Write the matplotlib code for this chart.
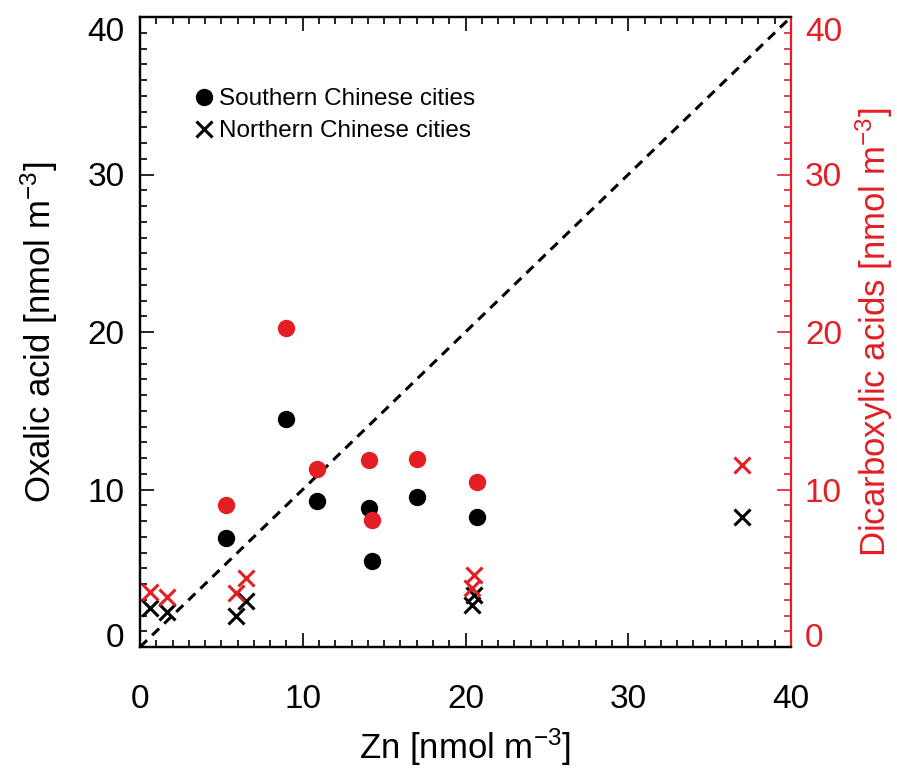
import numpy as np
import matplotlib
matplotlib.use("Agg")
import matplotlib.pyplot as plt
import matplotlib.transforms as mtransforms
from matplotlib.ticker import MultipleLocator, FuncFormatter
from matplotlib.lines import Line2D

plt.rcParams['font.family'] = ['Liberation Sans', 'DejaVu Sans']
plt.rcParams['mathtext.fontset'] = 'custom'
plt.rcParams['mathtext.rm'] = 'Liberation Sans'
plt.rcParams['mathtext.it'] = 'Liberation Sans:italic'
plt.rcParams['mathtext.bf'] = 'Liberation Sans:bold'

RED = '#e31e24'

# southern cities (circles)
south_zn = [5.3, 9.0, 10.9, 14.1, 14.25, 17.0, 20.7]
south_oxalic = [6.95, 14.5, 9.3, 8.8, 5.45, 9.55, 8.25]
south_dicarb = [9.0, 20.25, 11.3, 11.9, 8.05, 11.95, 10.5]

# northern cities (crosses)
north_zn = [0.6, 1.65, 5.9, 6.5, 20.55, 20.4, 37.0]
north_oxalic = [2.45, 2.25, 2.0, 2.9, 3.3, 2.65, 8.25]
north_dicarb = [3.5, 3.15, 3.45, 4.35, 4.55, 3.75, 11.55]

y_lo, y_hi = 0, 40

fig = plt.figure(figsize=(8.97, 7.69), dpi=100)
ax = fig.add_axes([140/897, 1-647/769, 651/897, 630/769])
ax2 = ax.twinx()

unit = ' [nmol m$^{\\mathregular{-3}}$]'

# 1:1 line
ax.plot([0, 40], [0, 40], ls=(0, (3.2, 2.3)), color='k', lw=2.2, zorder=1)

ax.plot(south_zn, south_oxalic, 'o', color='k', ms=12.5, mec='none', zorder=3)
ax2.plot(south_zn, south_dicarb, 'o', color=RED, ms=12.5, mec='none', zorder=3)
ax.plot(north_zn, north_oxalic, 'x', color='k', ms=12, mew=2.2, zorder=3)
ax2.plot(north_zn, north_dicarb, 'x', color=RED, ms=12, mew=2.2, zorder=3)

ax.set_xlim(0, 40)
ax.set_ylim(y_lo, y_hi)
ax2.set_ylim(y_lo, y_hi)

# end labels of the y axes are drawn separately (shifted inward)
inner = FuncFormatter(lambda v, p: '' if v in (y_lo, y_hi) else '%d' % v)
for a in (ax, ax2):
    a.xaxis.set_major_locator(MultipleLocator(10))
    a.xaxis.set_minor_locator(MultipleLocator(1))
    a.yaxis.set_major_locator(MultipleLocator(10))
    a.yaxis.set_minor_locator(MultipleLocator(1))
    a.yaxis.set_major_formatter(inner)
    for s in a.spines.values():
        s.set_linewidth(1.6)

ax.tick_params(which='both', direction='in', top=True, right=False,
               width=1.2, labelsize=24, colors='k')
ax.tick_params(which='major', length=10)
ax.tick_params(which='minor', length=5)
ax.tick_params(axis='x', pad=27)
ax.tick_params(axis='y', pad=11)

ax2.tick_params(which='both', direction='in', width=1.2, labelsize=24,
                colors=RED, pad=10)
ax2.tick_params(which='major', length=10)
ax2.tick_params(which='minor', length=5)
ax2.spines['right'].set_color(RED)
ax.spines['right'].set_visible(False)

left_tr = ax.get_yaxis_transform() + mtransforms.ScaledTranslation(-11/72, 0, fig.dpi_scale_trans)
right_tr = ax2.get_yaxis_transform() + mtransforms.ScaledTranslation(10/72, 0, fig.dpi_scale_trans)
for v, va in ((y_lo, 'baseline'), (y_hi, 'top')):
    ax.text(0, v, '%d' % v, transform=left_tr, ha='right', va=va,
            fontsize=24, color='k')
    ax2.text(1, v, '%d' % v, transform=right_tr, ha='left', va=va,
             fontsize=24, color=RED)

ax.set_xlabel('Zn' + unit, fontsize=25, labelpad=8)
ax.set_ylabel('Oxalic acid' + unit, fontsize=25, labelpad=20)
ax2.set_ylabel('Dicarboxylic acids' + unit, fontsize=25, color=RED,
               labelpad=8)

handles = [
    Line2D([], [], ls='none', marker='o', color='k', ms=12.5, mec='none'),
    Line2D([], [], ls='none', marker='x', color='k', ms=12, mew=2.2),
]
ax.legend(handles, ['Southern Chinese cities', 'Northern Chinese cities'],
          loc='upper left', bbox_to_anchor=(0.082, 0.887), frameon=False,
          fontsize=17.5, handlelength=0.9, handletextpad=0.15,
          labelspacing=0.42, borderpad=0, borderaxespad=0)

fig.savefig('out.png', dpi=100)
